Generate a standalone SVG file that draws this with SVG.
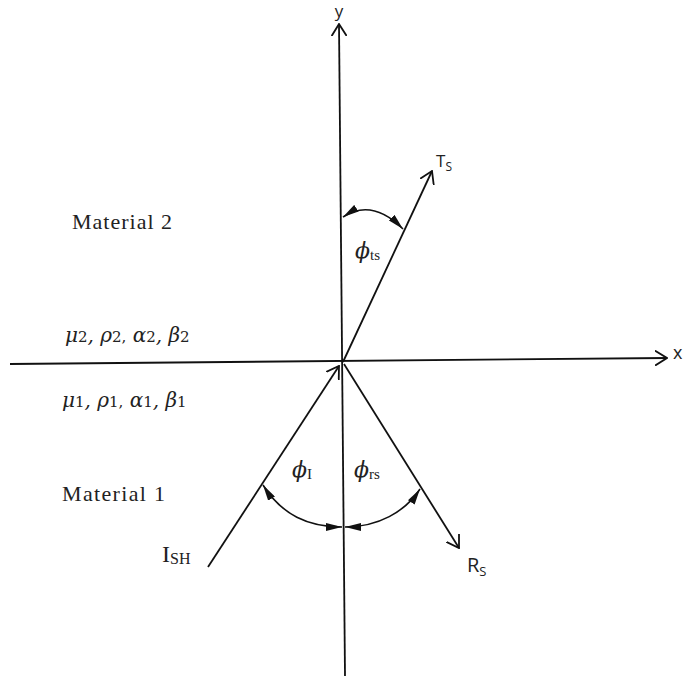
<svg xmlns="http://www.w3.org/2000/svg" width="684" height="682" viewBox="0 0 684 682">
<defs>
<style>
.ln{fill:none;stroke:#111;stroke-width:1.8}
.arc{fill:none;stroke:#111;stroke-width:1.6;marker-start:url(#fa);marker-end:url(#fa)}
.sans{font-family:"Open Sans","Liberation Sans",sans-serif;fill:#222}
.serif{font-family:"Liberation Serif","DejaVu Serif",serif;fill:#222}
.gr{font-family:"DejaVu Serif","Liberation Serif",serif;font-style:italic;fill:#222}
</style>
<marker id="oa" viewBox="0 0 13 16" refX="12" refY="8" markerWidth="13" markerHeight="16" markerUnits="userSpaceOnUse" orient="auto">
<path d="M0,0.5 L12,8 L0,15.5" fill="none" stroke="#111" stroke-width="1.8"/>
</marker>
<marker id="fa" viewBox="0 0 16 8" refX="16" refY="4" markerWidth="16" markerHeight="8" markerUnits="userSpaceOnUse" orient="auto-start-reverse">
<path d="M0,0 L16,4 L0,8 z" fill="#111"/>
</marker>
</defs>
<rect width="684" height="682" fill="#fff"/>
<g id="connectors">
<line class="ln" x1="10" y1="364" x2="667" y2="358" marker-end="url(#oa)"/>
<line class="ln" x1="345" y1="676" x2="339" y2="24" marker-end="url(#oa)"/>
<line class="ln" x1="343" y1="362" x2="432" y2="171" marker-end="url(#oa)"/>
<line class="ln" x1="208" y1="567" x2="339" y2="366" marker-end="url(#oa)"/>
<line class="ln" x1="344" y1="364" x2="459" y2="548" marker-end="url(#oa)"/>
<path class="arc" d="M343,217 Q372,198 403,229"/>
<path class="arc" d="M263,485 C282,515 308,527 342,527"/>
<path class="arc" d="M345,527 C378,527 405,512 420,489"/>
</g>
<g id="axis-y"><text class="sans" x="339" y="17" font-size="17" text-anchor="middle">y</text></g>
<g id="axis-x"><text class="sans" x="673" y="359" font-size="18">x</text></g>
<g id="ray-Ts"><text class="sans" x="436" y="167" font-size="17">T<tspan font-size="12" dy="4">S</tspan></text></g>
<g id="ray-Rs"><text class="sans" x="467" y="572" font-size="20">R<tspan font-size="13" dy="4">S</tspan></text></g>
<g id="ray-Ish"><text class="serif" x="162" y="562" font-size="24">I<tspan font-size="16" dy="2">SH</tspan></text></g>
<g id="material-2"><text class="serif" x="72" y="229" font-size="22" textLength="100">Material 2</text></g>
<g id="material-1"><text class="serif" x="62" y="501" font-size="22" textLength="103">Material 1</text></g>
<g id="props-2"><text class="gr" x="65" y="342" font-size="20">μ<tspan font-style="normal" font-size="15">2</tspan>, ρ<tspan font-style="normal" font-size="15">2,</tspan> α<tspan font-style="normal" font-size="15">2</tspan>, β<tspan font-style="normal" font-size="15">2</tspan></text></g>
<g id="props-1"><text class="gr" x="62" y="407" font-size="20">μ<tspan font-style="normal" font-size="15">1</tspan>, ρ<tspan font-style="normal" font-size="15">1,</tspan> α<tspan font-style="normal" font-size="15">1</tspan>, β<tspan font-style="normal" font-size="15">1</tspan></text></g>
<g id="angle-ts"><text class="gr" x="355" y="258" font-size="22">ϕ<tspan class="serif" font-style="normal" font-size="15" dy="2">ts</tspan></text></g>
<g id="angle-I"><text class="gr" x="292" y="477" font-size="22">ϕ<tspan class="serif" font-style="normal" font-size="15" dy="2">I</tspan></text></g>
<g id="angle-rs"><text class="gr" x="354" y="477" font-size="22">ϕ<tspan class="serif" font-style="normal" font-size="15" dy="2">rs</tspan></text></g>
</svg>
